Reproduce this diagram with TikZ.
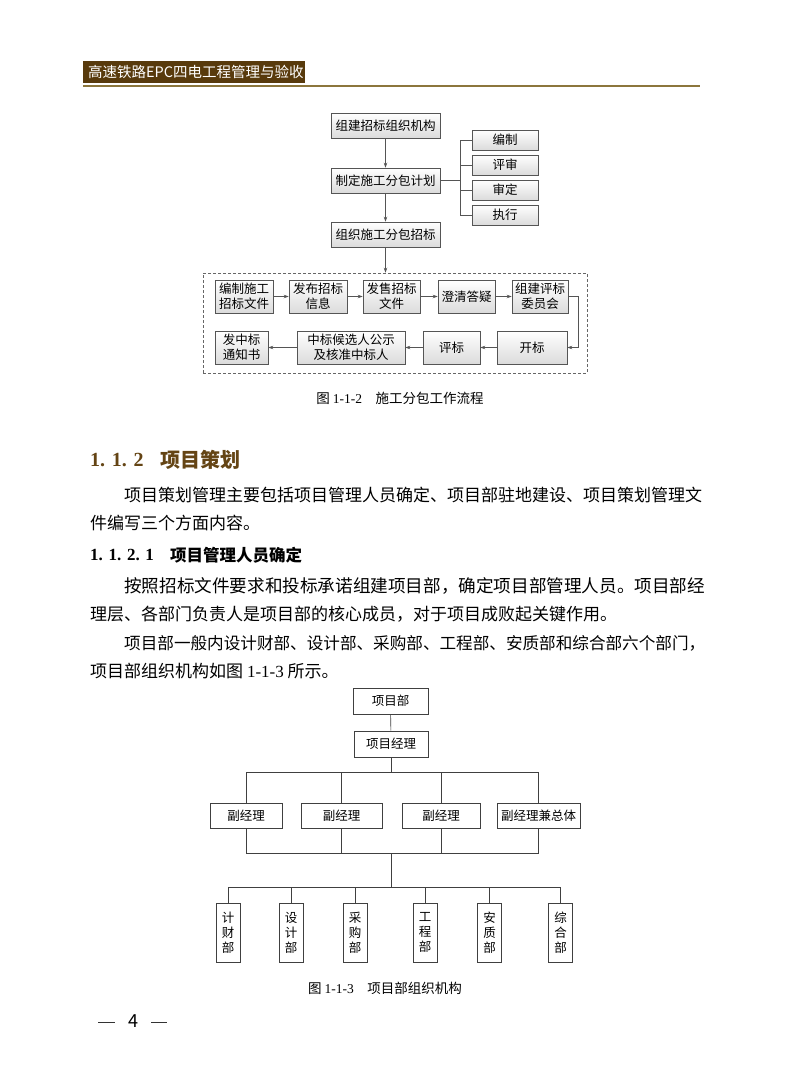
\documentclass[tikz,border=0pt]{standalone}
\usepackage{fontspec}
\setmainfont{Noto Sans CJK SC}
\newfontfamily\sernum{Liberation Serif}
\usetikzlibrary{arrows.meta,shadows}
\definecolor{hdr}{RGB}{88,58,12}
\definecolor{hline}{RGB}{140,118,60}
\definecolor{brn}{RGB}{100,68,20}
\definecolor{bd}{RGB}{85,85,85}
\begin{document}
\begin{tikzpicture}[x=1pt,y=-1pt,
  gbox/.style={draw=bd, line width=0.6pt, top color=white, bottom color=gray!28,
    inner sep=1pt, align=center, font=\fontsize{12.5}{15}\selectfont,
    drop shadow={shadow xshift=1.3pt,shadow yshift=-1.3pt,fill=gray!60,opacity=1}},
  wbox/.style={draw=black!75, line width=0.6pt, fill=white, inner sep=1pt,
    align=center, font=\fontsize{12.5}{15}\selectfont},
  arr/.style={draw=bd, line width=0.6pt, -{Stealth[length=5pt,width=3.5pt]}},
  ln/.style={draw=black!75, line width=0.6pt},
  txt/.style={anchor=west, inner sep=0pt, font=\fontsize{17}{17}\selectfont},
  capt/.style={inner sep=0pt, font=\fontsize{13.5}{14}\selectfont}]
\useasboundingbox (0,0) rectangle (800,1082);
\fill[white] (0,0) rectangle (800,1082);

% header
\fill[hdr] (83,61) rectangle (305,83);
\node[inner sep=0pt, anchor=west, text=white, font=\fontsize{14.5}{15}\selectfont] (htitle) at (88,72) {高速铁路EPC四电工程管理与验收};
\draw[hline, line width=2pt] (83,85.5) -- (700,85.5);

% figure 1-1-2
\node[gbox, minimum width=109pt, minimum height=25pt] (A) at (385.5,125.5) {组建招标组织机构};
\node[gbox, minimum width=109pt, minimum height=25pt] (B) at (385.5,180.5) {制定施工分包计划};
\node[gbox, minimum width=109pt, minimum height=25pt] (C) at (385.5,234.5) {组织施工分包招标};
\foreach \n/\y/\t in {e1/140/编制, e2/165/评审, e3/190/审定, e4/215/执行}
  \node[gbox, minimum width=66pt, minimum height=20pt] (\n) at (505,\y) {\t};
\draw[arr] (A) -- (B);
\draw[arr] (B) -- (C);
\coordinate (br) at (460,180.5);
\draw[ln, draw=bd] (B.east) -- (br);
\draw[ln, draw=bd] (br |- e1.west) -- (br |- e4.west);
\foreach \n in {e1,e2,e3,e4} \draw[ln, draw=bd] (br |- \n.west) -- (\n.west);

\node[draw=gray!80!black, dashed, dash pattern=on 3pt off 2pt, line width=0.6pt,
  minimum width=384pt, minimum height=100pt, inner sep=0pt] (dbox) at (395,323) {};
\draw[arr] (C.south) -- (C.south |- dbox.north);

\node[gbox, minimum width=58pt, minimum height=33pt] (r1) at (244,296.5) {编制施工\\招标文件};
\node[gbox, minimum width=58pt, minimum height=33pt] (r2) at (318,296.5) {发布招标\\信息};
\node[gbox, minimum width=57pt, minimum height=33pt] (r3) at (391.5,296.5) {发售招标\\文件};
\node[gbox, minimum width=57pt, minimum height=33pt] (r4) at (466.5,296.5) {澄清答疑};
\node[gbox, minimum width=56pt, minimum height=33pt] (r5) at (540,296.5) {组建评标\\委员会};
\node[gbox, minimum width=70pt, minimum height=33pt] (s1) at (532,347.5) {开标};
\node[gbox, minimum width=57pt, minimum height=33pt] (s2) at (451.5,347.5) {评标};
\node[gbox, minimum width=108pt, minimum height=33pt] (s3) at (351,347.5) {中标候选人公示\\及核准中标人};
\node[gbox, minimum width=53pt, minimum height=33pt] (s4) at (241.5,347.5) {发中标\\通知书};
\draw[arr] (r1) -- (r2);
\draw[arr] (r2) -- (r3);
\draw[arr] (r3) -- (r4);
\draw[arr] (r4) -- (r5);
\draw[arr] (r5.east) -- ++(10,0) |- (s1.east);
\draw[arr] (s1) -- (s2);
\draw[arr] (s2) -- (s3);
\draw[arr] (s3) -- (s4);
\node[capt] (cap1) at (400,398) {图 {\sernum 1-1-2}\quad 施工分包工作流程};

% section text
\node[anchor=west, inner sep=0pt, text=brn, font=\sernum\fontsize{20}{20}\selectfont\bfseries] (h1n) at (90,460) {1. 1. 2};
\node[anchor=west, inner sep=0pt, text=brn, font=\fontsize{20}{20}\selectfont\bfseries] (h1t) at (160,460) {项目策划};
\node[txt] (p1a) at (124,495) {项目策划管理主要包括项目管理人员确定、项目部驻地建设、项目策划管理文};
\node[txt] (p1b) at (90,523) {件编写三个方面内容。};
\node[anchor=west, inner sep=0pt, font=\sernum\fontsize{17}{17}\selectfont\bfseries] (h2n) at (90,555) {1. 1. 2. 1};
\node[anchor=west, inner sep=0pt, font=\fontsize{16.5}{17}\selectfont\bfseries] (h2t) at (170,555) {项目管理人员确定};
\node[txt, font=\fontsize{17.6}{17.6}\selectfont] (p2a) at (124,586) {按照招标文件要求和投标承诺组建项目部，确定项目部管理人员。项目部经};
\node[txt] (p2b) at (90,614) {理层、各部门负责人是项目部的核心成员，对于项目成败起关键作用。};
\node[txt, font=\fontsize{16.6}{16.6}\selectfont] (p3a) at (124,643) {项目部一般内设计财部、设计部、采购部、工程部、安质部和综合部六个部门，};
\node[txt] (p3b) at (90,671) {项目部组织机构如图 {\sernum 1-1-3} 所示。};

% figure 1-1-3
\node[wbox, minimum width=75pt, minimum height=26pt] (P) at (390.5,701) {项目部};
\node[wbox, minimum width=74pt, minimum height=26pt] (M) at (391,744) {项目经理};
\node[wbox, minimum width=72pt, minimum height=25pt] (D1) at (246,815.5) {副经理};
\node[wbox, minimum width=81pt, minimum height=25pt] (D2) at (341.5,815.5) {副经理};
\node[wbox, minimum width=78pt, minimum height=25pt] (D3) at (441,815.5) {副经理};
\node[wbox, minimum width=83pt, minimum height=25pt] (D4) at (538.5,815.5) {副经理兼总体};
\coordinate (b1) at (391,772);
\coordinate (b2) at (391,853);
\coordinate (b3) at (391,887);
\draw[ln] (P) -- (M);
\draw[ln] (M.south) -- (b1);
\draw[ln] (D1.north |- b1) -- (D4.north |- b1);
\draw[ln] (D1.south |- b2) -- (D4.south |- b2);
\foreach \n in {D1,D2,D3,D4} {
  \draw[ln] (\n.north |- b1) -- (\n.north);
  \draw[ln] (\n.south) -- (\n.south |- b2);
}
\draw[ln] (b2) -- (b3);
\foreach \n/\x/\t in {K1/228/计\\财\\部, K2/291/设\\计\\部, K3/355/采\\购\\部, K4/425/工\\程\\部, K5/489.5/安\\质\\部, K6/560.5/综\\合\\部}
  \node[wbox, minimum width=24pt, minimum height=59pt, inner sep=0pt] (\n) at (\x,932.5) {\t};
\draw[ln] (K1.north |- b3) -- (K6.north |- b3);
\foreach \n in {K1,K2,K3,K4,K5,K6} \draw[ln] (\n.north |- b3) -- (\n.north);
\node[capt] (cap2) at (385,988) {图 {\sernum 1-1-3}\quad 项目部组织机构};

% page number
\node[inner sep=0pt, font=\fontsize{18}{18}\selectfont] (pn) at (133,1021) {4};
\draw[black!80, line width=0.6pt] (98,1022) -- (115,1022);
\draw[black!80, line width=0.6pt] (151,1022) -- (167,1022);
\end{tikzpicture}
\end{document}
